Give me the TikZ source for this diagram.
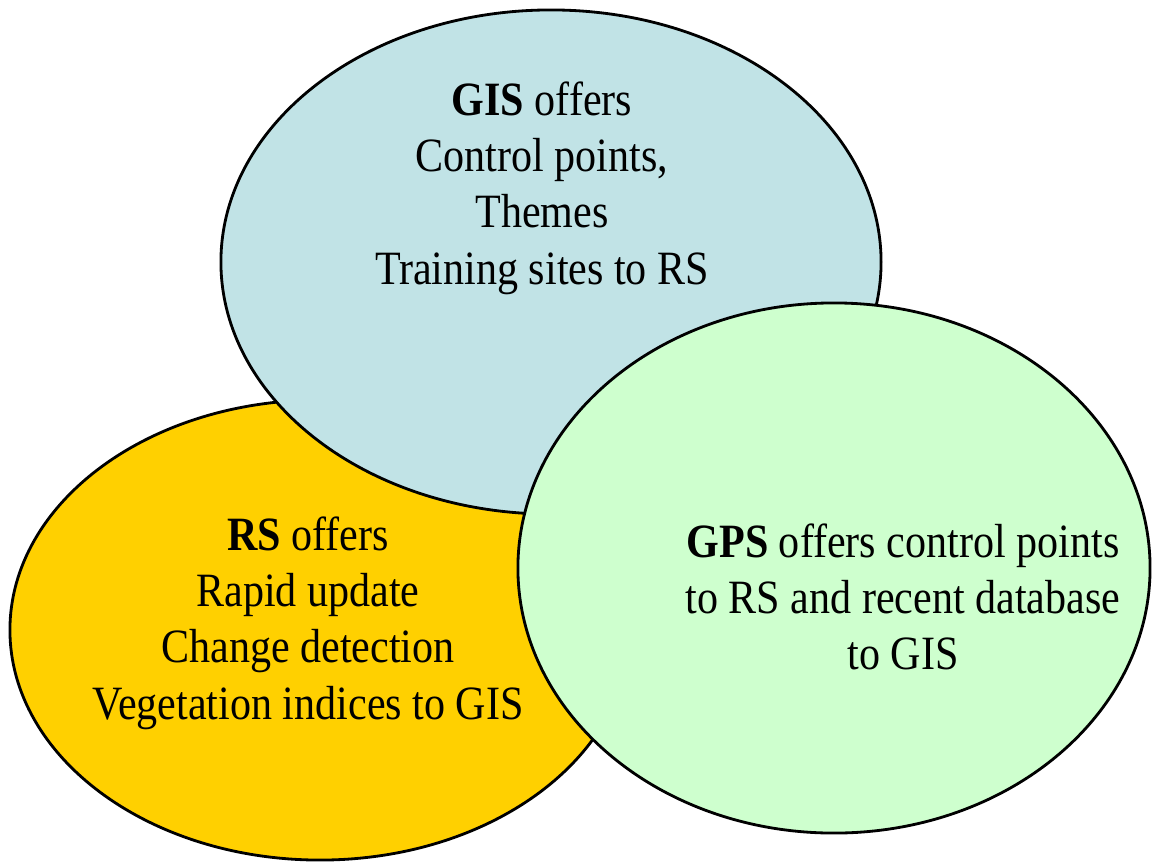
\documentclass[tikz,border=0pt]{standalone}
\usepackage{fontspec}
\setmainfont{Liberation Serif}[FakeStretch=0.88]
\usetikzlibrary{shapes.geometric}

\definecolor{gisblue}{RGB}{193,227,230}
\definecolor{rsyellow}{RGB}{255,208,0}
\definecolor{gpsgreen}{RGB}{206,255,206}

\begin{document}
\begin{tikzpicture}[x=0.025cm, y=-0.025cm,
    blob/.style={ellipse, draw=black, line width=2pt, inner sep=0pt},
    offer/.style={align=center, font=\fontsize{34}{40}\selectfont}]
  \useasboundingbox (0,0) rectangle (1152,863);
  \node[blob, fill=rsyellow, minimum width=15.5cm, minimum height=11.5cm] (rs) at (320,630) {};
  \node[blob, fill=gisblue, minimum width=16.5cm, minimum height=12.6cm] (gis) at (551,262) {};
  \node[blob, fill=gpsgreen, minimum width=15.8cm, minimum height=13.25cm] (gps) at (834,568) {};
  \node[offer] (gistext) at (542,188) {\textbf{GIS} offers\\Control points,\\Themes\\Training sites to RS};
  \node[offer] (rstext) at (308,623) {\textbf{RS} offers\\Rapid update\\Change detection\\Vegetation indices to GIS};
  \node[offer] (gpstext) at (903,597) {\textbf{GPS} offers control points\\to RS and recent database\\to GIS};
\end{tikzpicture}
\end{document}
